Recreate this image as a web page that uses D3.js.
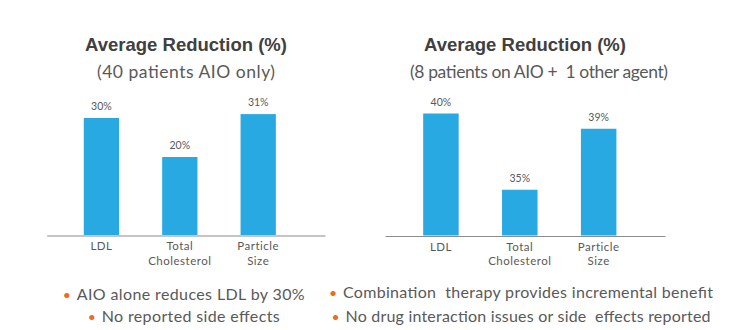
<!DOCTYPE html>
<html>
<head>
<meta charset="utf-8">
<script src="https://cdn.jsdelivr.net/npm/d3@7"></script>
<style>
  html, body { margin: 0; padding: 0; background: #ffffff; }
  svg { display: block; }
  text { white-space: pre; }
</style>
</head>
<body>
<svg id="chart" width="743" height="330"></svg>
<script>
// ---------- data ----------
const categories = ["LDL", "Total\nCholesterol", "Particle\nSize"];
const aloneValues = [30, 20, 31];
const comboValues = [40, 35, 39];
const aloneLabels = ["30%", "20%", "31%"];
const comboLabels = ["40%", "35%", "39%"];
const panelTitles = ["Average Reduction (%)", "Average Reduction (%)"];
const panelSubtitles = ["(40 patients AIO only)", "(8 patients on AIO +  1 other agent)"];
const aloneDomain = [0, 30];
const comboDomain = [32, 40];
const aloneBullets = ["AIO alone reduces LDL by 30%", "No reported side effects"];
const comboBullets = ["Combination  therapy provides incremental benefit", "No drug interaction issues or side  effects reported"];

// ---------- styles ----------
const barColor = "#29A9E1";
const axisColor = "#8c8c8c";
const textGray = "#595959";
const titleColor = "#404040";
const bulletColor = "#F06A22";

const svg = d3.select("#chart");

function drawPanel(cfg) {
  const g = svg.append("g");
  const x = d3.scaleBand()
    .domain(categories)
    .range([cfg.x0, cfg.x1])
    .paddingInner(0.55)
    .paddingOuter(0.55)
    .align(cfg.align);
  const y = d3.scaleLinear()
    .domain(cfg.domain)
    .range([cfg.base, cfg.top]);

  // title
  g.append("text")
    .attr("x", cfg.titleX).attr("y", 50.5)
    .attr("text-anchor", "middle")
    .attr("font-family", "Liberation Sans, Arial, sans-serif")
    .attr("font-weight", "bold")
    .attr("font-size", 18.5)
    .attr("fill", titleColor)
    .text(cfg.title);
  g.append("text")
    .attr("x", cfg.subX).attr("y", 77.5)
    .attr("text-anchor", "middle")
    .attr("font-family", "Lato, sans-serif")
    .attr("font-size", 17.5)
    .attr("fill", textGray)
    .attr("textLength", cfg.subLen)
    .attr("lengthAdjust", "spacing")
    .text(cfg.subtitle);

  // bars
  g.selectAll("rect.bar")
    .data(cfg.values)
    .join("rect")
    .attr("class", "bar")
    .attr("x", (d, i) => x(categories[i]))
    .attr("width", x.bandwidth())
    .attr("y", d => y(d))
    .attr("height", d => cfg.base - y(d))
    .attr("fill", barColor);

  // value labels
  g.selectAll("text.val")
    .data(cfg.values)
    .join("text")
    .attr("class", "val")
    .attr("x", (d, i) => x(categories[i]) + x.bandwidth() / 2)
    .attr("y", d => y(d) - 8)
    .attr("text-anchor", "middle")
    .attr("font-family", "Lato, sans-serif")
    .attr("font-size", 10.5)
    .attr("fill", textGray)
    .text((d, i) => cfg.labels[i]);

  // x axis
  const axis = d3.axisBottom(x).tickSize(0).tickFormat(() => "");
  const ag = g.append("g").attr("transform", `translate(0,${cfg.base + 0.5})`).call(axis);
  ag.select(".domain").attr("stroke", axisColor).attr("stroke-width", 1.2);

  // category labels (multi-line)
  categories.forEach(c => {
    const lines = c.split("\n");
    const t = g.append("text")
      .attr("text-anchor", "middle")
      .attr("font-family", "Lato, sans-serif")
      .attr("font-size", 11.5)
      .attr("letter-spacing", 0.5)
      .attr("fill", textGray);
    lines.forEach((ln, k) => {
      t.append("tspan")
        .attr("x", x(c) + x.bandwidth() / 2)
        .attr("y", cfg.base + 15 + k * 14.5)
        .text(ln);
    });
  });

  // bullets
  cfg.bullets.forEach((b, k) => {
    const bx = cfg.bulletX[k];
    const by = cfg.bulletY[k];
    g.append("text")
      .attr("x", bx).attr("y", by)
      .attr("text-anchor", "middle")
      .attr("font-family", "Lato, sans-serif")
      .attr("font-size", 14)
      .attr("fill", bulletColor)
      .text("\u2022");
    g.append("text")
      .attr("x", bx + 10).attr("y", by)
      .attr("font-family", "Lato, sans-serif")
      .attr("font-size", 16)
      .attr("fill", textGray)
      .attr("textLength", cfg.bulletLen[k])
      .attr("lengthAdjust", "spacing")
      .text(b);
  });
}

drawPanel({
  x0: 46.7, x1: 325, align: 0.43, base: 235, top: 118, domain: aloneDomain,
  values: aloneValues, labels: aloneLabels,
  title: panelTitles[0], subtitle: panelSubtitles[0],
  titleX: 186, subX: 186, subLen: 178,
  bullets: aloneBullets, bulletX: [66.7, 91.7], bulletY: [300, 321.5], bulletLen: [228, 178]
});

drawPanel({
  x0: 385, x1: 665, align: 0.44, base: 235.5, top: 113.5, domain: comboDomain,
  values: comboValues, labels: comboLabels,
  title: panelTitles[1], subtitle: panelSubtitles[1],
  titleX: 525, subX: 539, subLen: 258,
  bullets: comboBullets, bulletX: [333, 335.5], bulletY: [298, 321.5], bulletLen: [370, 365]
});
</script>
</body>
</html>
